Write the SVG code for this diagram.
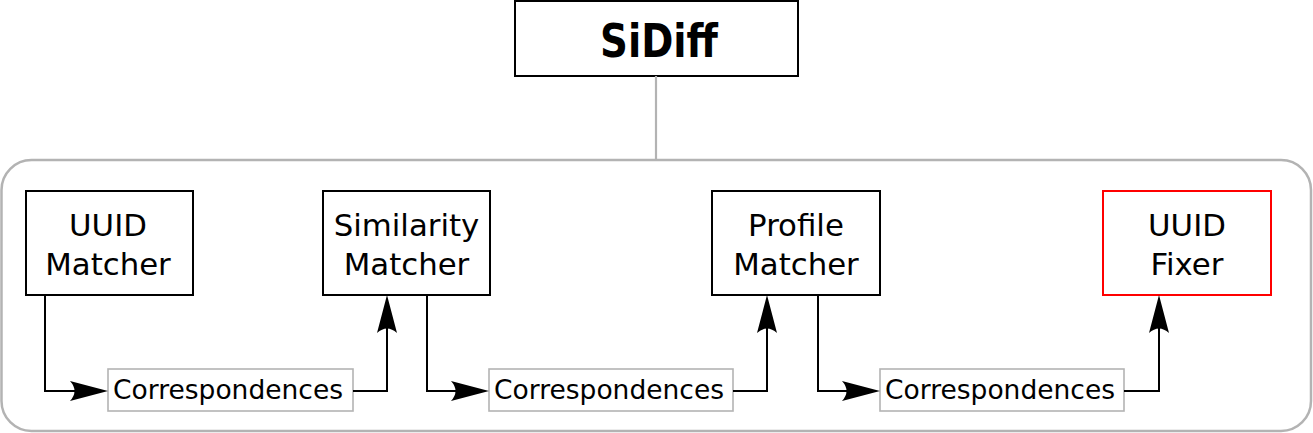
<svg xmlns="http://www.w3.org/2000/svg" width="1313" height="433" viewBox="0 0 1313 433">
<style>
.node{fill:#fff;stroke:#000;stroke-width:2}
.red{fill:#fff;stroke:#ff0000;stroke-width:2}
.corr{fill:#fff;stroke:#b3b3b3;stroke-width:1.6}
.t{font-family:"DejaVu Sans",sans-serif;font-size:30.8px;text-anchor:middle;fill:#000}
.ct{font-family:"DejaVu Sans",sans-serif;font-size:26.5px;text-anchor:middle;fill:#000}
.edge{fill:none;stroke:#000;stroke-width:2}
.ah{fill:#000;stroke:none}
</style>
<defs>
<path id="arrR" class="ah" d="M0,0 L-38,-10 Q-29,0 -38,10 Z"/>
<path id="arrU" class="ah" d="M0,0 L-10,38 Q0,29 10,38 Z"/>
</defs>
<g id="container">
<rect x="1.5" y="160" width="1309.5" height="271" rx="30" fill="#fff" stroke="#b3b3b3" stroke-width="2.5"/>
</g>
<g id="sidiff">
<rect x="515" y="1" width="283" height="75" class="node" stroke-width="1.5"/>
<text x="659" y="57" font-family="DejaVu Sans, sans-serif" font-size="46" font-weight="bold" text-anchor="middle" textLength="118" lengthAdjust="spacingAndGlyphs">SiDiff</text>
</g>
<g id="uuid-matcher">
<rect x="26" y="191" width="167" height="104" class="node"/>
<text class="t" x="108" y="236">UUID</text>
<text class="t" x="108" y="275">Matcher</text>
</g>
<g id="similarity-matcher">
<rect x="323" y="191" width="167" height="104" class="node"/>
<text class="t" x="406.5" y="236">Similarity</text>
<text class="t" x="406.5" y="275">Matcher</text>
</g>
<g id="profile-matcher">
<rect x="712" y="191" width="168" height="104" class="node"/>
<text class="t" x="796" y="236">Profile</text>
<text class="t" x="796" y="275">Matcher</text>
</g>
<g id="uuid-fixer">
<rect x="1103" y="191" width="168" height="104" class="red"/>
<text class="t" x="1187" y="236">UUID</text>
<text class="t" x="1187" y="275">Fixer</text>
</g>
<g id="corr1">
<rect x="108" y="369" width="245" height="42" class="corr"/>
<text class="ct" x="228" y="399">Correspondences</text>
</g>
<g id="corr2">
<rect x="489" y="369" width="244" height="42" class="corr"/>
<text class="ct" x="609" y="399">Correspondences</text>
</g>
<g id="corr3">
<rect x="880" y="369" width="244" height="42" class="corr"/>
<text class="ct" x="1000" y="399">Correspondences</text>
</g>
<g id="connectors">
<line x1="656" y1="76" x2="656" y2="160" stroke="#b3b3b3" stroke-width="2.2"/>
<path class="edge" d="M45,295 V391 H80"/>
<use href="#arrR" x="108" y="391"/>
<path class="edge" d="M353,391 H387 V320"/>
<use href="#arrU" x="387" y="295"/>
<path class="edge" d="M427,295 V391 H461"/>
<use href="#arrR" x="489" y="391"/>
<path class="edge" d="M733,391 H767 V320"/>
<use href="#arrU" x="767" y="295"/>
<path class="edge" d="M818,295 V391 H852"/>
<use href="#arrR" x="880" y="391"/>
<path class="edge" d="M1124,391 H1159 V320"/>
<use href="#arrU" x="1159" y="295"/>
</g>
</svg>
